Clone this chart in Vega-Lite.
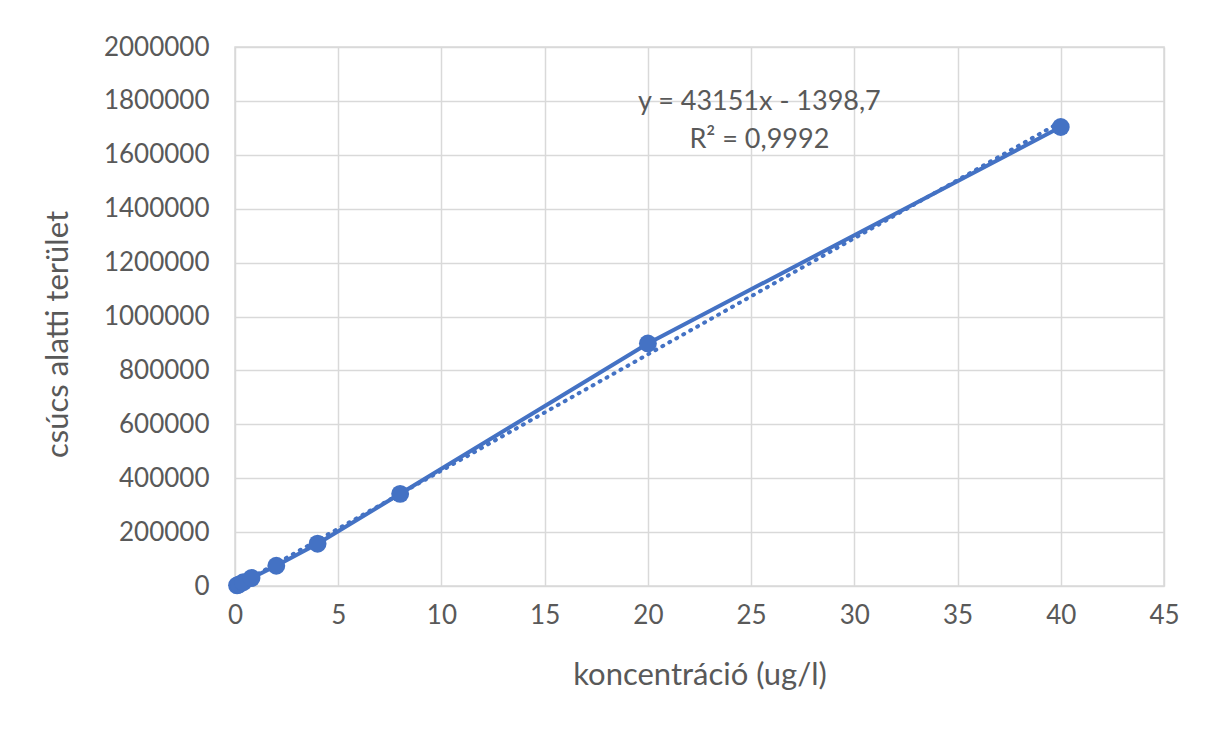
{
  "$schema": "https://vega.github.io/schema/vega-lite/v6.json",
  "width": 929,
  "height": 539,
  "autosize": {"type": "none"},
  "padding": {"left": 235, "top": 47, "right": 44, "bottom": 145},
  "background": "white",
  "config": {
    "font": "Lato",
    "view": {"stroke": "#d9d9d9", "strokeWidth": 1.5}
  },
  "data": {
    "values": [
      {"x": 0.1, "y": 2500},
      {"x": 0.2, "y": 6000},
      {"x": 0.4, "y": 14000},
      {"x": 0.8, "y": 29500},
      {"x": 2, "y": 75000},
      {"x": 4, "y": 157000},
      {"x": 8, "y": 342000},
      {"x": 20, "y": 900000},
      {"x": 40, "y": 1703000}
    ]
  },
  "encoding": {
    "x": {
      "field": "x",
      "type": "quantitative",
      "scale": {"domain": [0, 45], "nice": false, "zero": false},
      "axis": {
        "values": [0, 5, 10, 15, 20, 25, 30, 35, 40, 45],
        "title": "koncentráció (ug/l)",
        "grid": true,
        "gridColor": "#d9d9d9",
        "gridWidth": 1.5,
        "domain": false,
        "ticks": false,
        "labelFontSize": 26,
        "labelColor": "#595959",
        "labelPadding": 16,
        "labelFlush": false,
        "titleFontSize": 31,
        "titleFontWeight": "normal",
        "titleColor": "#595959",
        "titleBaseline": "middle",
        "titleY": 89
      }
    },
    "y": {
      "field": "y",
      "type": "quantitative",
      "scale": {"domain": [0, 2000000], "nice": false},
      "axis": {
        "values": [0, 200000, 400000, 600000, 800000, 1000000, 1200000, 1400000, 1600000, 1800000, 2000000],
        "format": "d",
        "title": "csúcs alatti terület",
        "grid": true,
        "gridColor": "#d9d9d9",
        "gridWidth": 1.5,
        "domain": false,
        "ticks": false,
        "labelFontSize": 26,
        "labelColor": "#595959",
        "labelPadding": 26,
        "labelFlush": false,
        "titleFontSize": 31,
        "titleFontWeight": "normal",
        "titleColor": "#595959",
        "titleAngle": -90,
        "titleBaseline": "middle",
        "titleAlign": "center",
        "titleX": -177,
        "titleY": 287
      }
    }
  },
  "layer": [
    {
      "mark": {"type": "line", "color": "#4472C4", "strokeWidth": 4},
      "encoding": {"order": {"field": "x", "type": "quantitative"}}
    },
    {
      "transform": [{"regression": "y", "on": "x"}],
      "mark": {"type": "line", "color": "#4472C4", "strokeWidth": 4, "strokeDash": [1, 7], "strokeCap": "round"},
      "encoding": {}
    },
    {
      "mark": {"type": "point", "filled": true, "size": 320, "opacity": 1, "color": "#4472C4"},
      "encoding": {}
    },
    {
      "data": {
        "values": [
          {"x": 25.4, "y": 1795000, "label": "y = 43151x - 1398,7"},
          {"x": 25.4, "y": 1655000, "label": "R² = 0,9992"}
        ]
      },
      "mark": {"type": "text", "fontSize": 27, "color": "#595959", "baseline": "middle", "align": "center"},
      "encoding": {"text": {"field": "label", "type": "nominal"}}
    }
  ]
}
